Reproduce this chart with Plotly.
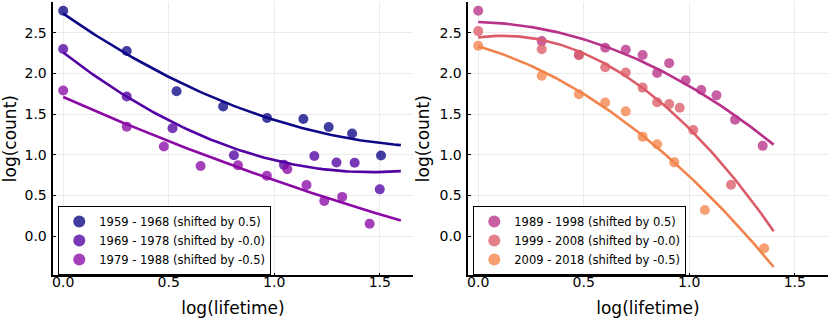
import numpy as np
import plotly.graph_objects as go

# left panel: 1959-1988
x_1959 = [0.0, 0.301, 0.537, 0.758, 0.966, 1.138, 1.258, 1.369, 1.506]
y_1959 = [2.77, 2.275, 1.78, 1.593, 1.452, 1.438, 1.341, 1.26, 0.99]
x_1969 = [0.0, 0.301, 0.518, 0.809, 1.046, 1.19, 1.295, 1.381, 1.5]
y_1969 = [2.30, 1.715, 1.325, 0.993, 0.875, 0.984, 0.904, 0.90, 0.574]
x_1979 = [0.0, 0.301, 0.477, 0.651, 0.828, 0.965, 1.062, 1.153, 1.237, 1.322, 1.452]
y_1979 = [1.79, 1.345, 1.10, 0.861, 0.871, 0.742, 0.822, 0.628, 0.432, 0.481, 0.15]

# right panel: 1989-2018
x_1989 = [0.0, 0.301, 0.477, 0.602, 0.699, 0.779, 0.848, 0.905, 0.983, 1.057, 1.129, 1.217, 1.348]
y_1989 = [2.77, 2.397, 2.23, 2.315, 2.29, 2.226, 2.005, 2.126, 1.915, 1.796, 1.73, 1.431, 1.109]
x_1999 = [0.0, 0.301, 0.477, 0.602, 0.699, 0.779, 0.848, 0.905, 0.955, 1.019, 1.198]
y_1999 = [2.52, 2.296, 2.225, 2.075, 2.01, 1.825, 1.645, 1.622, 1.578, 1.304, 0.631]
x_2009 = [0.0, 0.301, 0.477, 0.602, 0.699, 0.779, 0.848, 0.929, 1.074, 1.355]
y_2009 = [2.34, 1.972, 1.743, 1.642, 1.533, 1.222, 1.128, 0.906, 0.32, -0.151]

labels_left = ["1959 - 1968 (shifted by 0.5)", "1969 - 1978 (shifted by -0.0)", "1979 - 1988 (shifted by -0.5)"]
labels_right = ["1989 - 1998 (shifted by 0.5)", "1999 - 2008 (shifted by -0.0)", "2009 - 2018 (shifted by -0.5)"]
colors = ["#0d0887", "#5302a3", "#8b0aa5", "#b83289", "#db5c68", "#f2844b"]
fit_end = [1.6, 1.4]

FONT = "DejaVu Sans"

fig = go.Figure()


def add_series(xs, ys, label, color, xend, axis, legend):
    # quadratic fit through the points
    coef = np.polyfit(xs, ys, 2)
    xf = np.linspace(0, xend, 100)
    fig.add_trace(go.Scatter(x=xf, y=np.polyval(coef, xf), mode="lines", line=dict(color=color, width=2.6),
                             showlegend=False, hoverinfo="skip", xaxis="x" + axis, yaxis="y" + axis))
    fig.add_trace(go.Scatter(x=xs, y=ys, mode="markers", name=label, legend=legend,
                             marker=dict(color=color, size=10, opacity=0.78, line=dict(width=0)),
                             xaxis="x" + axis, yaxis="y" + axis))


for xs, ys, lab, c in zip([x_1959, x_1969, x_1979], [y_1959, y_1969, y_1979], labels_left, colors[:3]):
    add_series(xs, ys, lab, c, fit_end[0], "", "legend")
for xs, ys, lab, c in zip([x_1989, x_1999, x_2009], [y_1989, y_1999, y_2009], labels_right, colors[3:]):
    add_series(xs, ys, lab, c, fit_end[1], "2", "legend2")

ax = dict(showline=True, linecolor="black", linewidth=1.5, mirror=False, showgrid=True, gridcolor="#ebebeb",
          gridwidth=1, zeroline=False, ticks="inside", ticklen=3, tickcolor="black",
          tickfont=dict(family=FONT, size=14, color="black"))
xa = dict(ax, range=[-0.047, 1.656], tickvals=[0, 0.5, 1, 1.5], ticktext=["0.0", "0.5", "1.0", "1.5"],
          ticklabelstandoff=-7,
          title=dict(text="log(lifetime)", font=dict(family=FONT, size=17, color="black"), standoff=13))
ya = dict(ax, range=[-0.483, 2.878], tickvals=[0, 0.5, 1, 1.5, 2, 2.5],
          ticktext=["0.0", "0.5", "1.0", "1.5", "2.0", "2.5"], ticklabelstandoff=2,
          title=dict(text="log(count)", font=dict(family=FONT, size=17, color="black"), standoff=6))

leg = dict(bgcolor="white", bordercolor="black", borderwidth=1, font=dict(family=FONT, size=11.5, color="black"),
           xanchor="left", yanchor="top", y=0.3795, itemsizing="constant", tracegroupgap=0)

fig.update_layout(
    width=830, height=332, margin=dict(l=0, r=0, t=0, b=0),
    paper_bgcolor="white", plot_bgcolor="white",
    xaxis=dict(xa, domain=[0.0642, 0.4972], anchor="y"),
    yaxis=dict(ya, domain=[0.1708, 0.994], anchor="x"),
    xaxis2=dict(xa, domain=[0.5642, 0.9972], anchor="y2"),
    yaxis2=dict(ya, domain=[0.1708, 0.994], anchor="x2"),
    legend=dict(leg, x=0.0702),
    legend2=dict(leg, x=0.5702),
)

fig.write_html("out.html", config={"displayModeBar": False},
               post_script="document.body.style.margin='0';")
